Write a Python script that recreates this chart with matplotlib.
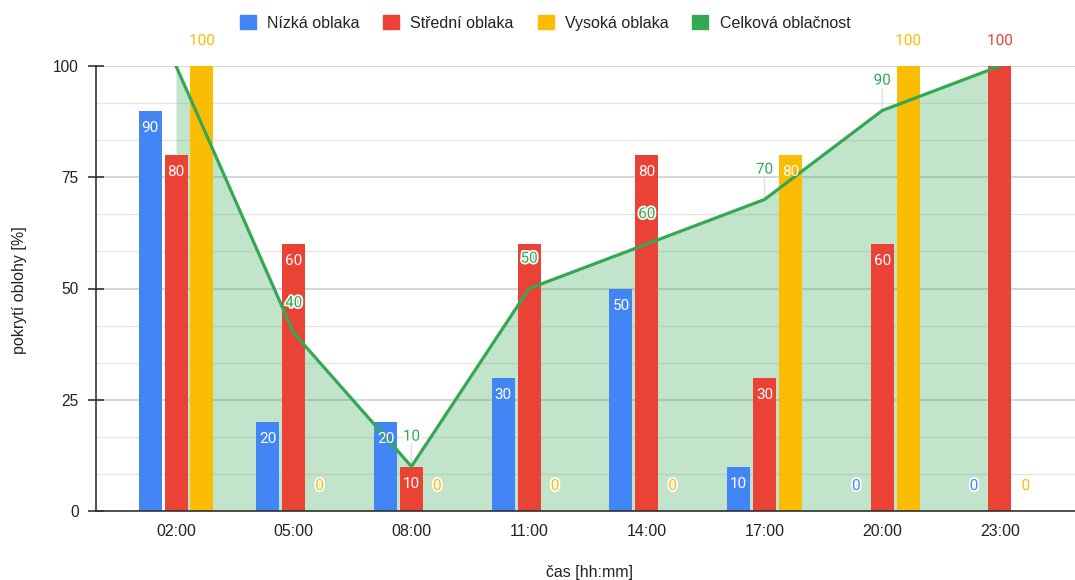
import matplotlib.pyplot as plt
import matplotlib.patheffects as pe
from matplotlib.patches import Patch
import numpy as np

casy = ["02:00", "05:00", "08:00", "11:00", "14:00", "17:00", "20:00", "23:00"]
nizka = [90, 20, 20, 30, 50, 10, 0, 0]
stredni = [80, 60, 10, 60, 80, 30, 60, 100]
vysoka = [100, 0, 0, 0, 0, 80, 100, 0]
celkova = [100, 40, 10, 50, 60, 70, 90, 100]

modra = "#4285F4"
cervena = "#EA4335"
zluta = "#FBBC04"
zelena = "#34A853"

plt.rcParams['font.family'] = ['Roboto', 'DejaVu Sans']

fig = plt.figure(figsize=(10.75, 5.8), dpi=100)
ax = fig.add_axes([96/1075, 69/580, 984/1075, 445/580])

x = np.arange(len(casy))
sirka = 0.195
krok = 0.22

# mrizka
ax.set_ylim(0, 100)
ax.set_xlim(-0.68, 7.68)
ax.set_yticks([0, 25, 50, 75, 100])
ax.set_yticks(np.arange(0, 100, 25/3), minor=True)
ax.grid(axis='y', which='major', color='#cccccc', linewidth=1.1, zorder=0)
ax.grid(axis='y', which='minor', color='#e6e6e6', linewidth=1.0, zorder=0)
ax.set_axisbelow(True)

# plocha celkove oblacnosti
ax.fill_between(x, celkova, 0, color=zelena, alpha=0.3, linewidth=0, zorder=1)

# popisek uvnitr prostredniho sloupce se schova, kdyz koliduje s popiskem celkove oblacnosti
px_na_jednotku = 445 / 100
def koliduje(v, celk):
    if celk >= 100:
        return False
    y_sloupec = v - 17 / px_na_jednotku
    y_celk = celk + 30 / px_na_jednotku
    return abs(y_sloupec - y_celk) < 16 / px_na_jednotku

serie = [(nizka, modra, -krok), (stredni, cervena, 0), (vysoka, zluta, krok)]
for hodnoty, barva, posun in serie:
    ax.bar(x + posun, hodnoty, width=sirka, color=barva, zorder=2)
    for i, v in enumerate(hodnoty):
        xi = x[i] + posun
        if v == 0 or v >= 100:
            ax.annotate(str(v), (xi, v), xytext=(0, 18), textcoords='offset points',
                        ha='center', va='center', fontsize=11, color=barva, zorder=5,
                        path_effects=[pe.withStroke(linewidth=2.5, foreground='white')])
        else:
            if posun == 0 and koliduje(v, celkova[i]):
                continue
            ax.annotate(str(v), (xi, v), xytext=(0, -12.5), textcoords='offset points',
                        ha='center', va='center', fontsize=11, color='white', zorder=5)

ax.plot(x, celkova, color=zelena, linewidth=2.3, zorder=3)

# popisky celkove oblacnosti se stopkou
for xi, v in zip(x, celkova):
    if v >= 100:
        continue
    ax.annotate("", (xi, v), xytext=(0, 16), textcoords='offset points',
                arrowprops=dict(arrowstyle='-', color='#dddddd', lw=1, shrinkA=0, shrinkB=0),
                zorder=1.5)
    ax.annotate(str(v), (xi, v), xytext=(0, 21.5), textcoords='offset points',
                ha='center', va='center', fontsize=11, color=zelena, zorder=6,
                path_effects=[pe.withStroke(linewidth=2.5, foreground='white')])

ax.set_xticks(x)
ax.set_xticklabels(casy, fontsize=11.5, family='Liberation Sans', color='#222222')
ax.tick_params(axis='x', length=0, pad=9)
ax.tick_params(axis='y', which='major', direction='inout', length=11, width=1.2,
               color='#333333', labelsize=11.2, pad=7)
ax.tick_params(axis='y', which='minor', length=0)
for t in ax.get_yticklabels():
    t.set_family('Liberation Sans')
    t.set_color('#222222')

for s in ['top', 'right']:
    ax.spines[s].set_visible(False)
ax.spines['left'].set_color('#333333')
ax.spines['left'].set_linewidth(1.2)
ax.spines['bottom'].set_color('#333333')
ax.spines['bottom'].set_linewidth(1.2)

fig.text(589/1075, 1 - 572/580, "čas [hh:mm]", ha='center', va='center',
         fontsize=11.5, family='Liberation Sans', color='#222222')
fig.text(20/1075, 1 - 290/580, "pokrytí oblohy [%]", ha='center', va='center',
         rotation=90, fontsize=11.5, family='Liberation Sans', color='#222222')

handles = [Patch(color=modra), Patch(color=cervena), Patch(color=zluta), Patch(color=zelena)]
fig.legend(handles, ["Nízká oblaka", "Střední oblaka", "Vysoká oblaka", "Celková oblačnost"],
           loc='center', bbox_to_anchor=(545/1075, 1 - 23/580), ncol=4, frameon=False,
           prop={'family': 'Liberation Sans', 'size': 11.5},
           handlelength=1.0, handleheight=1.0, handletextpad=0.7,
           columnspacing=1.5, labelcolor='#222222')

fig.savefig("out.png", dpi=100)
